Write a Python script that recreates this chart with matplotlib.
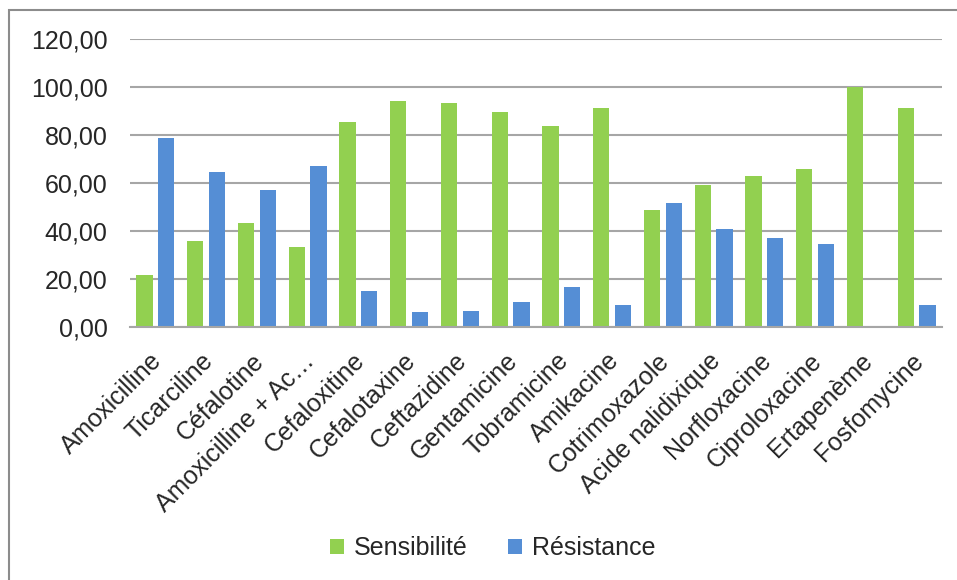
import numpy as np
import matplotlib.pyplot as plt
from matplotlib.patches import Rectangle
from matplotlib.ticker import FuncFormatter
from matplotlib.transforms import ScaledTranslation

# Antibiotiques testés et pourcentages observés
antibiotiques = ["Amoxicilline", "Ticarciline", "Céfalotine", "Amoxicilline + Ac…",
                 "Cefaloxitine", "Cefalotaxine", "Ceftazidine", "Gentamicine",
                 "Tobramicine", "Amikacine", "Cotrimoxazole", "Acide nalidixique",
                 "Norfloxacine", "Ciproloxacine", "Ertapenème", "Fosfomycine"]
sensibilite = [21.3, 35.5, 43.0, 33.0, 85.3, 94.0, 93.4, 89.6,
               83.6, 91.2, 48.5, 59.2, 62.9, 65.6, 100.0, 91.2]
resistance = [78.7, 64.5, 57.0, 67.0, 14.7, 6.0, 6.6, 10.4,
              16.4, 8.8, 51.5, 40.8, 37.1, 34.4, 0.0, 8.8]
graduations = [0, 20, 40, 60, 80, 100, 120]

plt.rcParams['font.family'] = ['Liberation Sans', 'DejaVu Sans']

fig = plt.figure(figsize=(9.57, 5.80), dpi=100)
ax = fig.add_axes([0.1358, 0.437, 0.8485, 0.4958])

x = np.arange(len(antibiotiques))
ax.bar(x - 0.215, sensibilite, width=0.32, color='#92D050', label='Sensibilité', zorder=3)
ax.bar(x + 0.215, resistance, width=0.32, color='#558ED5', label='Résistance', zorder=3)

ax.set_xlim(-0.5, len(antibiotiques) - 0.5)
ax.set_ylim(0, 120)
ax.set_yticks(graduations)
ax.yaxis.set_major_formatter(FuncFormatter(lambda v, p: f"{v:.2f}".replace('.', ',')))
ax.grid(axis='y', color='#a6a6a6', linewidth=1.5, zorder=0)

for cote in ['left', 'right', 'top']:
    ax.spines[cote].set_visible(False)
ax.spines['bottom'].set_color('#a6a6a6')
ax.spines['bottom'].set_linewidth(1.5)
ax.spines['bottom'].set_zorder(4)

ax.tick_params(axis='y', length=0, pad=16, labelsize=18, labelcolor='#262626')
ax.tick_params(axis='x', length=0, pad=22, labelsize=18, labelcolor='#262626')
ax.set_xticks(x)
ax.set_xticklabels(antibiotiques, rotation=45, ha='right', va='center',
                   rotation_mode='anchor')
# léger décalage vers la droite des étiquettes inclinées
decalage = ScaledTranslation(3 / 100, 0, fig.dpi_scale_trans)
for etiquette in ax.get_xticklabels():
    etiquette.set_transform(etiquette.get_transform() + decalage)

# Légende en bas, centrée
fig.legend(loc='center', bbox_to_anchor=(0.515, 0.055), ncol=2, frameon=False,
           fontsize=18, handlelength=0.55, handleheight=0.55, handletextpad=0.4,
           columnspacing=1.6, labelcolor='#262626')

# Cadre gris autour du graphique
fig.add_artist(Rectangle((9 / 957, -0.05), 1.0, 1 - 10 / 580 + 0.05,
                         transform=fig.transFigure, fill=False,
                         edgecolor='#8c8c8c', linewidth=1.5))

fig.savefig("out.png", dpi=100)
